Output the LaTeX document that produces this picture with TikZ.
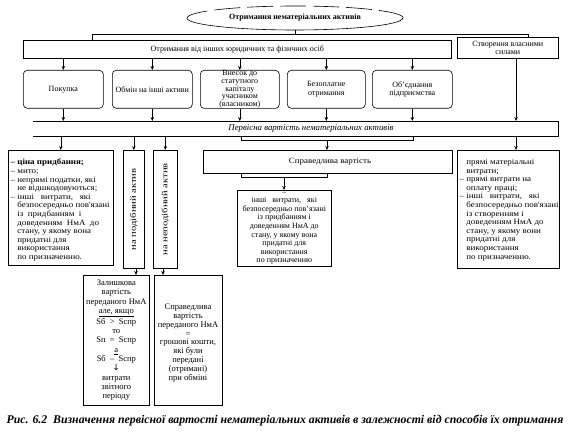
\documentclass[tikz,border=0pt]{standalone}
\usepackage{fontspec}
\setmainfont{Liberation Serif}
\newfontfamily\djv{DejaVu Sans}
\newfontfamily\wide[FakeStretch=1.12]{Liberation Serif}
\newfontfamily\vwide[FakeStretch=1.32]{Liberation Serif}
\usetikzlibrary{arrows.meta,shapes.geometric}
\begin{document}
\begin{tikzpicture}[x=1pt,y=-1pt,
  ln/.style={line width=0.6pt},
  frame/.style={draw, line width=0.6pt, inner sep=0pt},
  rbox/.style={draw, line width=0.6pt, rounded corners=4pt, inner sep=1pt, align=center},
  arr/.style={line width=0.6pt, -{Stealth[length=4pt,width=3.5pt]}},
  t8/.style={font=\fontsize{8}{8.6}\selectfont, inner sep=0pt},
  tw/.style={font=\wide\fontsize{8}{8.6}\selectfont, inner sep=0pt},
  trot/.style={font=\vwide\fontsize{8}{8.6}\selectfont, inner sep=0pt},
  tv/.style={font=\fontsize{8}{7.8}\selectfont},
  tit/.style={font=\fontsize{8.8}{9}\selectfont\itshape, inner sep=0pt},
  tb/.style={font=\fontsize{8}{8.6}\selectfont\bfseries, inner sep=0pt},
  captext/.style={font=\fontsize{11.8}{13}\selectfont\bfseries\itshape, inner sep=0pt}]
\useasboundingbox (0,0) rectangle (569,435);

% top ellipse
\node[ellipse, minimum width=216pt, minimum height=24pt, inner sep=0pt] (ell) at (295,18) {};
\node[tb] (ellt) at (ell.center) {Отримання нематеріальних активів};
\draw[ln, dash pattern=on 26pt off 7pt] (ell.east) arc[start angle=0, end angle=180, x radius=108pt, y radius=12pt];
\draw[ln] (ell.west) arc[start angle=180, end angle=360, x radius=108pt, y radius=12pt];

% source boxes
\node[frame, t8, anchor=north west, minimum width=428pt, minimum height=18pt] (src) at (23,40) {Отримання від інших юридичних та фізичних осіб};
\node[frame, t8, anchor=north west, minimum width=101pt, minimum height=21pt, align=center] (own) at (457,37) {Створення власними\\силами};

\coordinate (bl) at (92,34);
\coordinate (br) at (528,34);
\coordinate (rx) at (516,0);
\draw[ln] (ell.south) -- (ell.south |- bl);
\draw[ln] (bl |- src.north) -- (bl) -- (br) -- (br |- own.north);

% ways
\node[rbox, t8, anchor=north west, minimum width=80pt, minimum height=38pt] (b1) at (23,70) {Покупка};
\node[rbox, t8, anchor=north west, minimum width=80pt, minimum height=38pt] (b2) at (112,70) {Обмін на інші активи};
\node[rbox, tv, anchor=north west, minimum width=79pt, minimum height=38pt, inner sep=0pt] (b3) at (200,70) {Внесок до\\статутного\\капіталу\\учасником\\(власником)};
\node[rbox, t8, anchor=north west, minimum width=78pt, minimum height=38pt] (b4) at (287,70) {Безоплатне\\отримання};
\node[rbox, t8, anchor=north west, minimum width=80pt, minimum height=38pt] (b5) at (372,70) {Об'єднання\\підприємства};

% initial cost band
\node[anchor=north west, minimum width=525pt, minimum height=15pt, inner sep=0pt] (perv) at (33,121) {};
\draw[ln] (perv.north west) -- (perv.north east) -- (perv.south east) -- (perv.south west);
\node[tit] (pervt) at (311,128.5) {Первісна вартість нематеріальних активів};

\foreach \b in {b1,b2,b3,b4,b5} {
  \draw[arr] (\b.north |- src.south) -- (\b.north);
  \draw[arr] (\b.south) -- (\b.south |- perv.north);
}
\draw[arr] (own.south -| rx) -- (perv.north -| rx);

% lower boxes
\node[frame, anchor=north west, minimum width=105pt, minimum height=115pt] (lbox) at (8,150) {};
\node[tw, anchor=north west, align=left] (lboxt) at (10.5,159) {\textbf{– ціна придбання;}\\– мито;\\– непрямі податки, які\\\phantom{– }не відшкодовуються;\\– інші \ \ витрати, \ \ які\\\phantom{– }безпосередньо пов'язані\\\phantom{– }із \ придбанням \ і\\\phantom{– }доведенням \ НмА \ до\\\phantom{– }стану, у якому вона\\\phantom{– }придатні для\\\phantom{– }використання\\\phantom{– }по призначенню.};

\node[frame, anchor=north west, minimum width=21pt, minimum height=118pt] (v1) at (123,150) {};
\node[trot, rotate=90] (v1t) at (v1.center) {на подібний актив};
\node[frame, anchor=north west, minimum width=24pt, minimum height=118pt] (v2) at (153,150) {};
\node[trot, rotate=90] (v2t) at (v2.center) {на неподібний актив};

\node[frame, anchor=north west, minimum width=249pt, minimum height=23pt] (fair) at (203,150) {};
\node[tw] (fairt) at (330,161.5) {Справедлива вартість};

\node[frame, anchor=north west, minimum width=94pt, minimum height=76pt] (mbox) at (237,190) {};
\node[t8, align=center] (mboxt) at (mbox.center) {–\\інші \ \ витрати, \ \ які\\безпосередньо пов'язані\\із придбанням і\\доведенням НмА до\\стану, у якому вона\\придатні для\\використання\\по призначенню};

\node[frame, anchor=north west, minimum width=102pt, minimum height=118pt] (rbox) at (457,150) {};
\node[tw, anchor=north west, align=left] (rboxt) at (459.5,159) {\phantom{– }прямі матеріальні\\\phantom{– }витрати;\\– прямі витрати на\\\phantom{– }оплату праці;\\– інші \ \ витрати, \ \ які\\\phantom{– }безпосередньо пов'язані\\\phantom{– }із створенням і\\\phantom{– }доведенням НмА до\\\phantom{– }стану, у якому вони\\\phantom{– }придатні для\\\phantom{– }використання\\\phantom{– }по призначенню.};

\coordinate (pl) at (241,140);
\coordinate (pr) at (413,140);
\coordinate (pm) at (327,140);
\draw[ln] (pl |- perv.south) -- (pl) -- (pr) -- (pr |- perv.south);
\draw[arr] (pm) -- (pm |- fair.north);
\draw[arr] (perv.south -| lbox.north) -- (lbox.north);
\draw[arr] (perv.south -| v1.north) -- (v1.north);
\draw[arr] (perv.south -| v2.north) -- (v2.north);
\draw[arr] (perv.south -| rx) -- (rbox.north -| rx);

\coordinate (fl) at (241,177);
\coordinate (fr) at (327,177);
\coordinate (fm) at (284,177);
\draw[ln] (fl |- fair.south) -- (fl) -- (fr) -- (fr |- fair.south);
\draw[arr] (fm) -- (fm |- mbox.north);

% bottom boxes
\node[frame, anchor=north west, minimum width=66pt, minimum height=130pt] (bx1) at (83,275) {};
\node[t8, align=center, font=\fontsize{8.5}{9.3}\selectfont] (bx1t) at (bx1.center) {Залишкова\\вартість\\переданого НмА\\\underline{але, якщо}\\Sб \ > \ Sспр\\то\\Sп \ = \ Sспр\\\underline{а}\\Sб \ – \ Sспр\\{\djv ↓}\\витрати\\звітного\\періоду};
\node[frame, anchor=north west, minimum width=68pt, minimum height=130pt] (bx2) at (154,275) {};
\node[t8, align=center, font=\fontsize{8.5}{8.9}\selectfont] (bx2t) at (188,343) {Справедлива\\вартість\\переданого НмА\\=\\грошові кошти,\\які були\\передані\\(отримані)\\при обміні};

\coordinate (x1) at (136,0);
\coordinate (x2) at (163,0);
\draw[arr] (v1.south -| x1) -- (bx1.north -| x1);
\draw[arr] (v2.south -| x2) -- (bx2.north -| x2);

\node[captext] (capt) at (285,421) {Рис. 6.2 \ Визначення первісної вартості нематеріальних активів в залежності від способів їх отримання};
\end{tikzpicture}
\end{document}
